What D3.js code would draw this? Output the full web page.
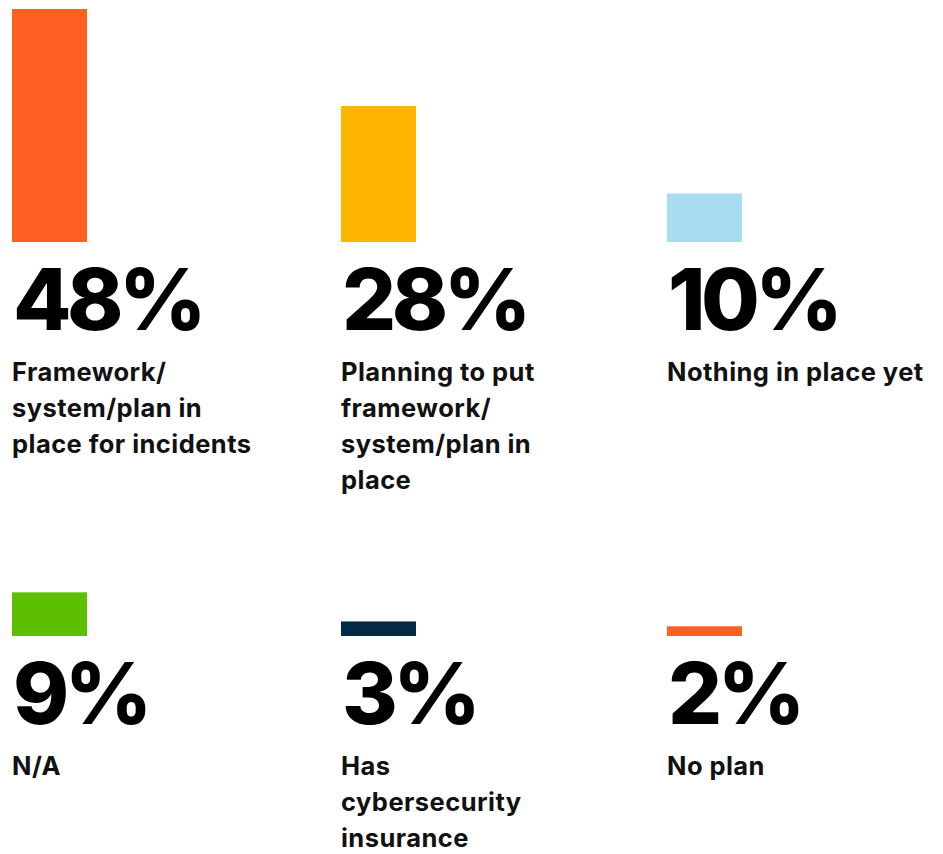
<!DOCTYPE html>
<html>
<head>
<meta charset="utf-8">
<script src="https://cdn.jsdelivr.net/npm/d3@7"></script>
<style>
  html, body { margin: 0; padding: 0; background: #ffffff; }
  svg { display: block; }
</style>
</head>
<body>
<script>
// Share of respondents by incident-response readiness
const values = [48, 28, 10, 9, 3, 2];
const labelLines = [
  ["Framework/", "system/plan in", "place for incidents"],
  ["Planning to put", "framework/", "system/plan in", "place"],
  ["Nothing in place yet"],
  ["N/A"],
  ["Has", "cybersecurity", "insurance"],
  ["No plan"]
];
const colors = ["#FF5F20", "#FFB400", "#A8DCF2", "#5CBF00", "#032A44", "#FF5F20"];

const W = 943, H = 854;
const svg = d3.select("body").append("svg").attr("width", W).attr("height", H);

// layout: 3 columns x 2 rows
const colX = [12, 341, 667];
const rowBase = [242, 636];       // baseline of the bars in each row
const barW = 75;

const h = d3.scaleLinear().domain([0, 48]).range([0, 233]);

const items = values.map((v, i) => ({
  v, lines: labelLines[i], color: colors[i],
  x: colX[i % 3], base: rowBase[Math.floor(i / 3)]
}));

const g = svg.selectAll("g.item").data(items).join("g").attr("class", "item");

g.append("rect")
  .attr("x", d => d.x)
  .attr("y", d => d.base - h(d.v))
  .attr("width", barW)
  .attr("height", d => h(d.v))
  .attr("fill", d => d.color);

g.append("text")
  .attr("x", d => d.x + 1)
  .attr("y", d => d.base + 88)
  .attr("font-family", "Inter, 'Noto Sans', sans-serif")
  .attr("font-weight", 800)
  .attr("font-size", 85)
  .attr("fill", "#000")
  .attr("letter-spacing", -4.5)
  .text(d => d.v + "%");

g.each(function(d) {
  const t = d3.select(this).append("text")
    .attr("font-family", "Inter, 'Noto Sans', sans-serif")
    .attr("font-weight", 700)
    .attr("font-size", 25.5)
    .attr("letter-spacing", 0.45)
    .attr("fill", "#111");
  t.selectAll("tspan").data(d.lines).join("tspan")
    .attr("x", d.x)
    .attr("y", (l, j) => d.base + 139 + j * 36)
    .text(l => l);
});
</script>
</body>
</html>
